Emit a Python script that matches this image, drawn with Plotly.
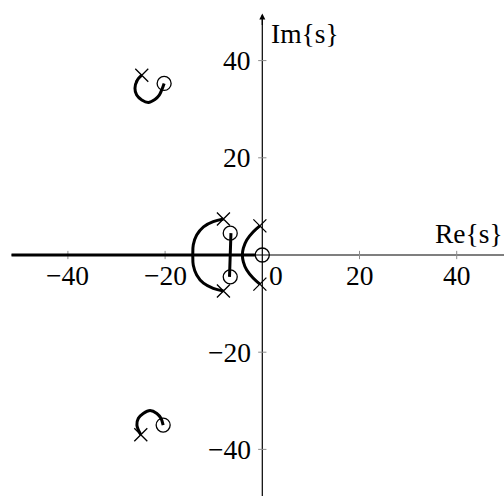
import plotly.graph_objects as go

# Open-loop poles and zeros
pole_re = [-24.8, -25.0, -8.0, -8.0, -0.5, -0.5]
pole_im = [37.0, -37.0, 7.4, -7.4, 6.0, -6.0]
zero_re = [-20.2, -20.4, -6.6, -6.6, 0.0]
zero_im = [35.3, -35.0, 4.5, -4.5, 0.0]

# Root-locus branches
upper_loop_re = [-24.8, -25.7, -26.2, -25.85, -24.8, -23.45, -22.1, -21.2, -20.7, -20.2]
upper_loop_im = [37.0, 36.0, 34.3, 32.9, 31.9, 31.4, 32.0, 32.9, 33.95, 35.3]
lower_loop_re = [-25.0, -25.8, -25.5, -24.5, -23.1, -21.7, -20.85, -20.4]
lower_loop_im = [-37.0, -35.0, -33.6, -32.6, -32.0, -32.6, -33.6, -35.0]
left_arc_re = [-8.0, -10.1, -12.1, -13.5, -14.2, -14.3, -14.2, -13.5, -12.1, -10.1, -8.0]
left_arc_im = [7.4, 6.85, 5.8, 4.1, 2.1, 0.0, -2.1, -4.1, -5.8, -6.85, -7.4]
right_arc_re = [-0.5, -1.85, -3.2, -3.9, -4.1, -3.9, -3.2, -1.85, -0.5]
right_arc_im = [6.0, 4.8, 3.1, 1.4, 0.0, -1.4, -3.1, -4.8, -6.0]
link_re = [-6.45, -6.6, -6.75]
link_im = [4.5, 0.0, -4.5]
real_axis_re = [-51.6, -1.4]
real_axis_im = [0.0, 0.0]

x_ticks = [-40, -20, 20, 40]
y_ticks = [-40, -20, 20, 40]
x_tick_labels = ["\u221240", "\u221220", "20", "40"]
y_tick_labels = ["\u221240", "\u221220", "20", "40"]

X_MIN, X_MAX = -53.97, 49.73
Y_MIN, Y_MAX = -49.59, 52.47
FONT = '"Liberation Serif", "DejaVu Serif", serif'
FS = 27.5

fig = go.Figure()

locus_style = dict(mode="lines", line=dict(color="black", width=3, shape="spline"),
                   hoverinfo="skip", showlegend=False)
for xs, ys in [(upper_loop_re, upper_loop_im), (lower_loop_re, lower_loop_im),
               (left_arc_re, left_arc_im), (right_arc_re, right_arc_im),
               (link_re, link_im)]:
    fig.add_trace(go.Scatter(x=xs, y=ys, **locus_style))
fig.add_trace(go.Scatter(x=real_axis_re, y=real_axis_im, mode="lines",
                         line=dict(color="black", width=3), showlegend=False))

fig.add_trace(go.Scatter(x=pole_re, y=pole_im, mode="markers", showlegend=False,
                         marker=dict(symbol="x-thin-open", size=13, color="black",
                                     line=dict(color="black", width=1.3))))
fig.add_trace(go.Scatter(x=zero_re, y=zero_im, mode="markers", showlegend=False,
                         marker=dict(symbol="circle-open", size=14, color="black",
                                     line=dict(color="black", width=1.3))))

shapes = []
# axis lines
shapes.append(dict(type="line", x0=-51.6, x1=X_MAX, y0=0, y1=0,
                   line=dict(color="black", width=1.2), layer="below"))
shapes.append(dict(type="line", x0=0, x1=0, y0=Y_MIN, y1=49.0,
                   line=dict(color="black", width=1.2), layer="below"))
# tick marks
t = 0.85
for v in x_ticks:
    shapes.append(dict(type="line", x0=v, x1=v, y0=-t, y1=t,
                       line=dict(color="#8c8c8c", width=1), layer="below"))
for v in y_ticks:
    shapes.append(dict(type="line", x0=-t, x1=t, y0=v, y1=v,
                       line=dict(color="#8c8c8c", width=1), layer="below"))

tick_font = dict(family=FONT, size=FS, color="black")
annotations = []
for v, lab in zip(x_ticks, x_tick_labels):
    annotations.append(dict(x=v, y=0, text=lab, showarrow=False, xanchor="center",
                            yanchor="top", yshift=-3, font=tick_font))
annotations.append(dict(x=0, y=0, text="0", showarrow=False, xanchor="left",
                        yanchor="top", xshift=5, yshift=-3, font=tick_font))
for v, lab in zip(y_ticks, y_tick_labels):
    annotations.append(dict(x=0, y=v, text=lab, showarrow=False, xanchor="right",
                            yanchor="middle", xshift=-9, font=tick_font))
# arrow head on imaginary axis
annotations.append(dict(x=0, y=49.7, ax=0, ay=47.0, axref="x", ayref="y", xref="x", yref="y",
                        showarrow=True, arrowhead=2, arrowsize=1, arrowwidth=1.2,
                        arrowcolor="black", text=""))
annotations.append(dict(x=0, y=45.5, text="Im{s}", showarrow=False, xanchor="left",
                        yanchor="middle", xshift=7, font=tick_font))
annotations.append(dict(x=49.5, y=0, text="Re{s}", showarrow=False, xanchor="right",
                        yanchor="bottom", xshift=2, yshift=4, font=tick_font))

fig.update_layout(
    width=504, height=496, margin=dict(l=0, r=0, t=0, b=0),
    paper_bgcolor="white", plot_bgcolor="white",
    font=dict(family=FONT),
    xaxis=dict(range=[X_MIN, X_MAX], visible=False, fixedrange=True),
    yaxis=dict(range=[Y_MIN, Y_MAX], visible=False, fixedrange=True),
    shapes=shapes, annotations=annotations, showlegend=False,
)

fig.write_html("out.html")
